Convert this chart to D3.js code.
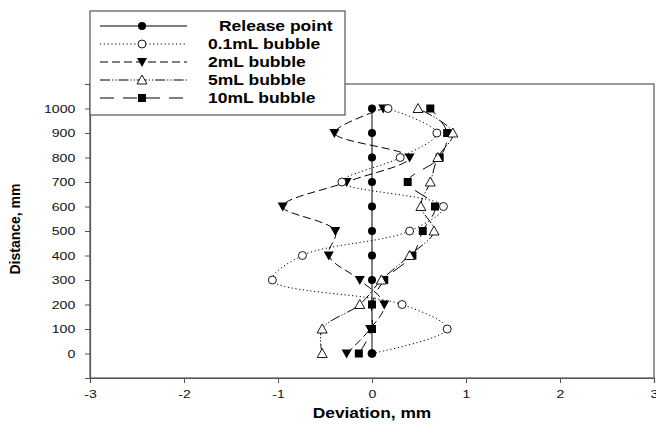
<!DOCTYPE html>
<html><head><meta charset="utf-8">
<script src="https://cdn.jsdelivr.net/npm/d3@7/dist/d3.min.js"></script>
<style>body{margin:0;background:#fff}svg{display:block}text{font-family:"Liberation Sans",Arial,sans-serif}</style>
</head><body><svg id="c" width="656" height="430"></svg>
<script>
const distances = [0,100,200,300,400,500,600,700,800,900,1000];
const releasePoint = [0,0,0,0,0,0,0,0,0,0,0];
const bubble01 = [0.0,0.80,0.32,-1.06,-0.74,0.40,0.76,-0.32,0.30,0.69,0.17];
const bubble2 = [-0.27,-0.02,0.13,-0.13,-0.46,-0.39,-0.95,-0.27,0.40,-0.40,0.12];
const bubble5 = [-0.53,-0.53,-0.13,0.10,0.40,0.66,0.52,0.62,0.70,0.86,0.49];
const bubble10 = [-0.14,0.0,0.0,0.13,0.43,0.54,0.67,0.38,0.72,0.80,0.62];
const seriesNames = ["Release point","0.1mL bubble","2mL bubble","5mL bubble","10mL bubble"];
const xTicks = [-3,-2,-1,0,1,2,3];
const yTicks = [0,100,200,300,400,500,600,700,800,900,1000];

const series = [
  {name:seriesNames[0], vals:releasePoint, dash:null, marker:"circleF"},
  {name:seriesNames[1], vals:bubble01, dash:"1.2,2.6", marker:"circleO"},
  {name:seriesNames[2], vals:bubble2, dash:"8,4", marker:"triDown"},
  {name:seriesNames[3], vals:bubble5, dash:"10,2,1.2,2,1.2,2", marker:"triUp"},
  {name:seriesNames[4], vals:bubble10, dash:"14,9", marker:"square"}
];

const svg = d3.select("#c");
const x = d3.scaleLinear().domain([-3,3]).range([90,654]);
const y = d3.scaleLinear().domain([-100,1100]).range([378,84]);
const axisColor = "#555";
const stretch = 1.28;

// frame
svg.append("rect").attr("x",90).attr("y",84).attr("width",564).attr("height",294)
  .attr("fill","none").attr("stroke",axisColor).attr("stroke-width",1.2);

const xa = svg.append("g").attr("transform","translate(0,378)")
  .call(d3.axisBottom(x).tickValues(xTicks).tickSize(5).tickPadding(7).tickFormat(d=>String(d)));
const ya = svg.append("g").attr("transform","translate(90,0)")
  .call(d3.axisLeft(y).tickValues(yTicks).tickSize(5).tickPadding(6.5).tickFormat(d=>String(d)));
[xa,ya].forEach(a=>{
  a.select(".domain").attr("stroke",axisColor).attr("stroke-width",1.2);
  a.selectAll(".tick line").attr("stroke",axisColor);
  a.selectAll(".tick text").attr("font-size",11).attr("fill","#111")
   .attr("transform",`scale(${stretch},1)`)
   .style("font-family","'Liberation Sans',Arial,sans-serif");
});

svg.append("text").attr("transform",`translate(${x(0)},418) scale(1.24,1)`).attr("text-anchor","middle")
  .attr("font-size",14).attr("font-weight","bold").text("Deviation, mm");
svg.append("text").attr("transform","translate(20,229) rotate(-90)").attr("text-anchor","middle")
  .attr("font-size",14).attr("font-weight","bold").text("Distance, mm");

function drawMarker(g, type, cx, cy){
  if(type==="circleF") g.append("circle").attr("cx",cx).attr("cy",cy).attr("r",4).attr("fill","#000");
  else if(type==="circleO") g.append("circle").attr("cx",cx).attr("cy",cy).attr("r",4).attr("fill","#fff").attr("stroke","#000").attr("stroke-width",0.9);
  else if(type==="triDown") g.append("path").attr("d",`M${cx-5},${cy-4}L${cx+5},${cy-4}L${cx},${cy+5}Z`).attr("fill","#000");
  else if(type==="triUp") g.append("path").attr("d",`M${cx-5},${cy+4}L${cx+5},${cy+4}L${cx},${cy-5}Z`).attr("fill","#fff").attr("stroke","#000").attr("stroke-width",0.9);
  else if(type==="square") g.append("rect").attr("x",cx-4).attr("y",cy-4).attr("width",8).attr("height",8).attr("fill","#000");
}

const line = d3.line().x(d=>x(d[0])).y(d=>y(d[1])).curve(d3.curveCatmullRom.alpha(0.5));
const plot = svg.append("g");
series.forEach(s=>{
  const pts = s.vals.map((v,i)=>[v,distances[i]]);
  plot.append("path").datum(pts).attr("d",line).attr("fill","none").attr("stroke","#000")
    .attr("stroke-width",1).attr("stroke-dasharray",s.dash);
});
series.slice().reverse().forEach(s=>{
  const g = plot.append("g");
  s.vals.forEach((v,i)=>drawMarker(g,s.marker,x(v),y(distances[i])));
});

// legend
const lg = svg.append("g");
lg.append("rect").attr("x",90).attr("y",11).attr("width",255).attr("height",104)
  .attr("fill","#fff").attr("stroke",axisColor).attr("stroke-width",1.2);
series.forEach((s,i)=>{
  const ly = 26 + i*18;
  lg.append("line").attr("x1",100).attr("x2",187).attr("y1",ly).attr("y2",ly)
    .attr("stroke","#000").attr("stroke-width",1).attr("stroke-dasharray",s.dash);
  drawMarker(lg,s.marker,142,ly);
  lg.append("text").attr("transform",`translate(${i===0?219:208},${ly+5}) scale(1.25,1)`)
    .attr("font-size",14).attr("font-weight","bold").text(s.name);
});
</script></body></html>
